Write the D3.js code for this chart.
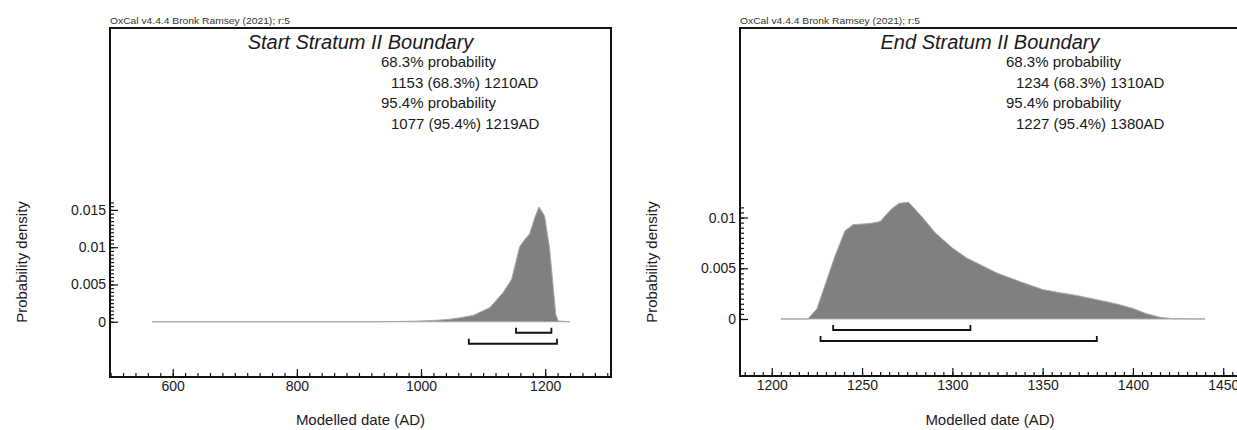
<!DOCTYPE html>
<html>
<head>
<meta charset="utf-8">
<script src="https://cdn.jsdelivr.net/npm/d3@7"></script>
<style>
  body { margin: 0; background: #fff; }
  svg { display: block; }
</style>
</head>
<body>
<div id="chart"></div>
<script>
// OxCal boundary plots, two panels side by side

// Start Stratum II Boundary - posterior density
const startYears   = [567, 900, 958, 998, 1030, 1047, 1063, 1084, 1111, 1132, 1146, 1159, 1167, 1175, 1183, 1190, 1199, 1207, 1213, 1217, 1221, 1240];
const startDensity = [0, 0, 0.00003, 0.00009, 0.00022, 0.00035, 0.00054, 0.00085, 0.0019, 0.0039, 0.0057, 0.0101, 0.011, 0.0118, 0.0139, 0.0154, 0.0142, 0.0099, 0.0046, 0.001, 0.0001, 0];
const startFrom = [1153, 1077];
const startTo   = [1210, 1219];
const startLines = ["68.3% probability", "1153 (68.3%) 1210AD", "95.4% probability", "1077 (95.4%) 1219AD"];
const startXTicks = [600, 800, 1000, 1200];
const startYTicks = [0, 0.005, 0.01, 0.015];

// End Stratum II Boundary - posterior density
const endYears   = [1205, 1220, 1225, 1235, 1240.6, 1245, 1254, 1260, 1266, 1270.5, 1275.8, 1283, 1290.5, 1300, 1308, 1316, 1325, 1338, 1350, 1359, 1369.5, 1380, 1390.5, 1400, 1407, 1415, 1422, 1440];
const endDensity = [0, 0, 0.001, 0.0062, 0.0087, 0.0093, 0.0094, 0.0096, 0.0108, 0.0114, 0.0115, 0.0101, 0.0085, 0.007, 0.006, 0.0053, 0.0045, 0.00365, 0.0029, 0.0026, 0.0023, 0.0019, 0.0015, 0.00104, 0.00055, 0.00016, 0.00003, 0];
const endFrom = [1234, 1227];
const endTo   = [1310, 1380];
const endLines = ["68.3% probability", "1234 (68.3%) 1310AD", "95.4% probability", "1227 (95.4%) 1380AD"];
const endXTicks = [1200, 1250, 1300, 1350, 1400, 1450];
const endYTicks = [0, 0.005, 0.01];

const credit = "OxCal v4.4.4 Bronk Ramsey (2021); r:5";

const width = 1237;
const height = 430;
const font = "'Liberation Sans', Arial, sans-serif";

const svg = d3.select("#chart").append("svg")
  .attr("width", width)
  .attr("height", height)
  .style("font-family", font);

function drawPanel(p) {
  const g = svg.append("g");

  const x = d3.scaleLinear().domain(p.xDomain).range([p.left, p.right]);
  const y = d3.scaleLinear().domain(p.yDomain).range([p.bottom, p.top]);

  // density area
  const pts = p.years.map((yr, i) => [yr, p.density[i]]);
  g.append("path")
    .datum(pts)
    .attr("d", d3.area().x(d => x(d[0])).y0(y(0)).y1(d => y(d[1])))
    .attr("fill", "#808080")
    .attr("stroke", "#a8a8a8")
    .attr("stroke-width", 1);

  // probability range brackets
  p.from.forEach((f, i) => {
    const by = y(0) + 11 + i * 11;
    g.append("path")
      .attr("d", `M${x(f)},${by - 5}V${by}H${x(p.to[i])}V${by - 5}`)
      .attr("fill", "none")
      .attr("stroke", "#111")
      .attr("stroke-width", 1.8);
  });

  // x axis: minor + major ticks pointing inward
  const xMinor = d3.range(p.xMinorStart, p.xDomain[1], p.xMinorStep);
  g.append("g")
    .attr("transform", `translate(0,${p.bottom})`)
    .call(d3.axisBottom(x).tickValues(xMinor).tickSize(-4).tickFormat(""))
    .call(a => a.select(".domain").remove());
  g.append("g")
    .attr("transform", `translate(0,${p.bottom})`)
    .call(d3.axisBottom(x).tickValues(p.xTicks).tickSize(-8).tickPadding(4).tickFormat(d3.format("d")))
    .call(a => a.select(".domain").remove())
    .selectAll("text")
    .style("font-size", "14px")
    .style("font-family", font)
    .attr("fill", "#1a1a1a");

  // y axis
  const yMinor = d3.range(0, p.yMinorMax + 1e-9, 0.0005);
  g.append("g")
    .attr("transform", `translate(${p.left},0)`)
    .call(d3.axisLeft(y).tickValues(yMinor).tickSize(-4).tickFormat(""))
    .call(a => a.select(".domain").remove());
  g.append("g")
    .attr("transform", `translate(${p.left},0)`)
    .call(d3.axisLeft(y).tickValues(p.yTicks).tickSize(-8).tickPadding(4).tickFormat(d => d === 0 ? "0" : String(+d.toFixed(3))))
    .call(a => a.select(".domain").remove())
    .selectAll("text")
    .style("font-size", "14px")
    .style("font-family", font)
    .attr("fill", "#1a1a1a");

  g.selectAll(".tick line").attr("stroke", "#111").attr("stroke-width", 1.2);

  // frame
  g.append("rect")
    .attr("x", p.left)
    .attr("y", p.top)
    .attr("width", p.right - p.left)
    .attr("height", p.bottom - p.top)
    .attr("fill", "none")
    .attr("stroke", "#111")
    .attr("stroke-width", 2);

  // credit line
  g.append("text")
    .attr("x", p.left)
    .attr("y", p.top - 4)
    .attr("textLength", 180)
    .attr("lengthAdjust", "spacingAndGlyphs")
    .style("font-size", "9.5px")
    .attr("fill", "#333")
    .text(credit);

  // title
  g.append("text")
    .attr("x", (p.left + p.right) / 2)
    .attr("y", p.top + 21)
    .attr("text-anchor", "middle")
    .style("font-size", "20px")
    .style("font-style", "italic")
    .attr("fill", "#1a1a1a")
    .text(p.title);

  // probability summary
  p.lines.forEach((t, i) => {
    g.append("text")
      .attr("x", p.textX + (i % 2 ? 10 : 0))
      .attr("y", p.top + 39 + i * 20.6)
      .style("font-size", "15px")
      .attr("fill", "#1a1a1a")
      .text(t);
  });

  // axis titles
  g.append("text")
    .attr("x", (p.left + p.right) / 2)
    .attr("y", 425)
    .attr("text-anchor", "middle")
    .style("font-size", "15px")
    .attr("fill", "#1a1a1a")
    .text("Modelled date (AD)");

  g.append("text")
    .attr("transform", `translate(${p.left - 83},262) rotate(-90)`)
    .attr("text-anchor", "middle")
    .style("font-size", "15px")
    .attr("fill", "#1a1a1a")
    .text("Probability density");
}

drawPanel({
  title: "Start Stratum II Boundary",
  years: startYears, density: startDensity,
  from: startFrom, to: startTo, lines: startLines,
  xTicks: startXTicks, yTicks: startYTicks,
  xDomain: [499, 1306], yDomain: [-0.00741, 0.0394],
  xMinorStart: 500, xMinorStep: 20, yMinorMax: 0.016,
  left: 110, right: 611, top: 28, bottom: 377, textX: 381
});

drawPanel({
  title: "End Stratum II Boundary",
  years: endYears, density: endDensity,
  from: endFrom, to: endTo, lines: endLines,
  xTicks: endXTicks, yTicks: endYTicks,
  xDomain: [1182.4, 1459.3], yDomain: [-0.00562, 0.02868],
  xMinorStart: 1185, xMinorStep: 5, yMinorMax: 0.011,
  left: 740, right: 1240, top: 28, bottom: 376, textX: 1006
});
</script>
</body>
</html>
